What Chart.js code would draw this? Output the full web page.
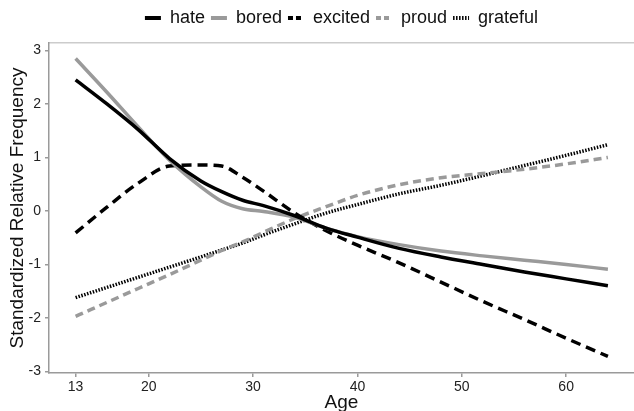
<!DOCTYPE html>
<html>
<head>
<meta charset="utf-8">
<script src="https://cdn.jsdelivr.net/npm/chart.js@4"></script>
<style>
  html, body { margin: 0; padding: 0; background: #fff; }
  #wrap { width: 634px; height: 411px; position: relative; }
</style>
</head>
<body>
<div id="wrap"><canvas id="c"></canvas></div>
<script>
// values
const AGES     = [13, 16, 19, 22, 25, 27, 29, 31, 34, 37, 40, 44, 48, 52, 56, 60, 64];
const HATE     = [2.45, 2.00, 1.52, 0.98, 0.56, 0.36, 0.20, 0.10, -0.09, -0.32, -0.49, -0.70, -0.86, -1.00, -1.14, -1.27, -1.40];
const BORED    = [2.85, 2.22, 1.57, 0.95, 0.45, 0.18, 0.04, -0.01, -0.12, -0.32, -0.48, -0.63, -0.75, -0.84, -0.92, -1.00, -1.09];
const EXCITED  = [-0.41, 0.07, 0.52, 0.84, 0.86, 0.84, 0.63, 0.37, -0.04, -0.37, -0.64, -0.97, -1.33, -1.69, -2.03, -2.38, -2.72];
const PROUD    = [-1.97, -1.71, -1.45, -1.19, -0.92, -0.74, -0.58, -0.40, -0.14, 0.08, 0.29, 0.49, 0.62, 0.70, 0.78, 0.88, 1.00];
const GRATEFUL = [-1.62, -1.43, -1.24, -1.05, -0.86, -0.73, -0.60, -0.45, -0.24, -0.04, 0.12, 0.32, 0.48, 0.66, 0.85, 1.04, 1.24];
const X_TICKS  = [13, 20, 30, 40, 50, 60];
const Y_TICKS  = [-3, -2, -1, 0, 1, 2, 3];

const BLACK = '#000000';
const GREY  = '#9a9a9a';
const AXIS  = '#9a9a9a';
const FONT  = '"Liberation Sans", Arial, Helvetica, sans-serif';

const pts = ys => AGES.map((a, i) => ({ x: a, y: ys[i] }));

const SERIES = [
  { label: 'hate',     data: HATE,     color: BLACK, dash: [],      legendDash: [] },
  { label: 'bored',    data: BORED,    color: GREY,  dash: [],      legendDash: [] },
  { label: 'excited',  data: EXCITED,  color: BLACK, dash: [10, 6], legendDash: [5, 3] },
  { label: 'proud',    data: PROUD,    color: GREY,  dash: [8, 5],  legendDash: [5, 3] },
  { label: 'grateful', data: GRATEFUL, color: BLACK, dash: [1.5, 1.5], legendDash: [1.5, 1.5] }
];

new Chart(document.getElementById('c'), {
  type: 'line',
  data: {
    datasets: SERIES.map(s => ({
      label: s.label,
      data: pts(s.data),
      borderColor: s.color,
      backgroundColor: s.color,
      borderWidth: 3.5,
      borderDash: s.dash,
      borderCapStyle: 'butt',
      pointRadius: 0,
      fill: false,
      cubicInterpolationMode: 'monotone'
    }))
  },
  options: {
    responsive: true,
    maintainAspectRatio: false,
    animation: false,
    devicePixelRatio: 1,
    layout: { padding: { top: 3, left: 0, right: 0, bottom: 0 } },
    plugins: {
      tooltip: { enabled: false },
      legend: {
        position: 'top',
        fullSize: false,
        labels: {
          usePointStyle: true,
          pointStyle: 'line',
          pointStyleWidth: 16,
          padding: 6,
          color: '#111',
          font: { family: FONT, size: 18 },
          generateLabels: chart => {
            const items = Chart.defaults.plugins.legend.labels.generateLabels(chart);
            items.forEach((it, i) => {
              it.lineDash = SERIES[i].legendDash;
              it.lineWidth = 4;
              it.pointStyle = 'line';
            });
            return items;
          }
        }
      }
    },
    scales: {
      x: {
        type: 'linear',
        min: 10.45,
        max: 66.5,
        afterBuildTicks: s => { s.ticks = X_TICKS.map(v => ({ value: v })); },
        afterFit: s => { s.height = 38; },
        ticks: {
          color: '#222', padding: 2, autoSkip: false, maxRotation: 0,
          font: { family: FONT, size: 14 }
        },
        grid: { drawOnChartArea: false, drawTicks: true, tickLength: 4, color: AXIS, lineWidth: 1.5 },
        border: { display: true, color: AXIS, width: 1.5 },
        title: {
          display: true, text: 'Age', color: '#111',
          font: { family: FONT, size: 19 },
          padding: { top: 0, bottom: -3 }
        }
      },
      xTop: {
        type: 'linear',
        position: 'top',
        min: 10.45,
        max: 66.5,
        afterFit: s => { s.height = 6; },
        ticks: { display: false },
        grid: { display: false },
        border: { display: true, color: '#cccccc', width: 1.5 }
      },
      y: {
        type: 'linear',
        min: -3.03,
        max: 3.14,
        afterBuildTicks: s => { s.ticks = Y_TICKS.map(v => ({ value: v })); },
        afterFit: s => { s.width = 49; },
        ticks: {
          color: '#222', padding: 4,
          font: { family: FONT, size: 14 }
        },
        grid: { drawOnChartArea: false, drawTicks: true, tickLength: 4, color: AXIS, lineWidth: 1.5 },
        border: { display: true, color: AXIS, width: 1.5 },
        title: {
          display: true, text: 'Standardized Relative Frequency', color: '#111',
          font: { family: FONT, size: 19 },
          padding: { top: 6, bottom: 0 }
        }
      }
    }
  }
});
</script>
</body>
</html>
